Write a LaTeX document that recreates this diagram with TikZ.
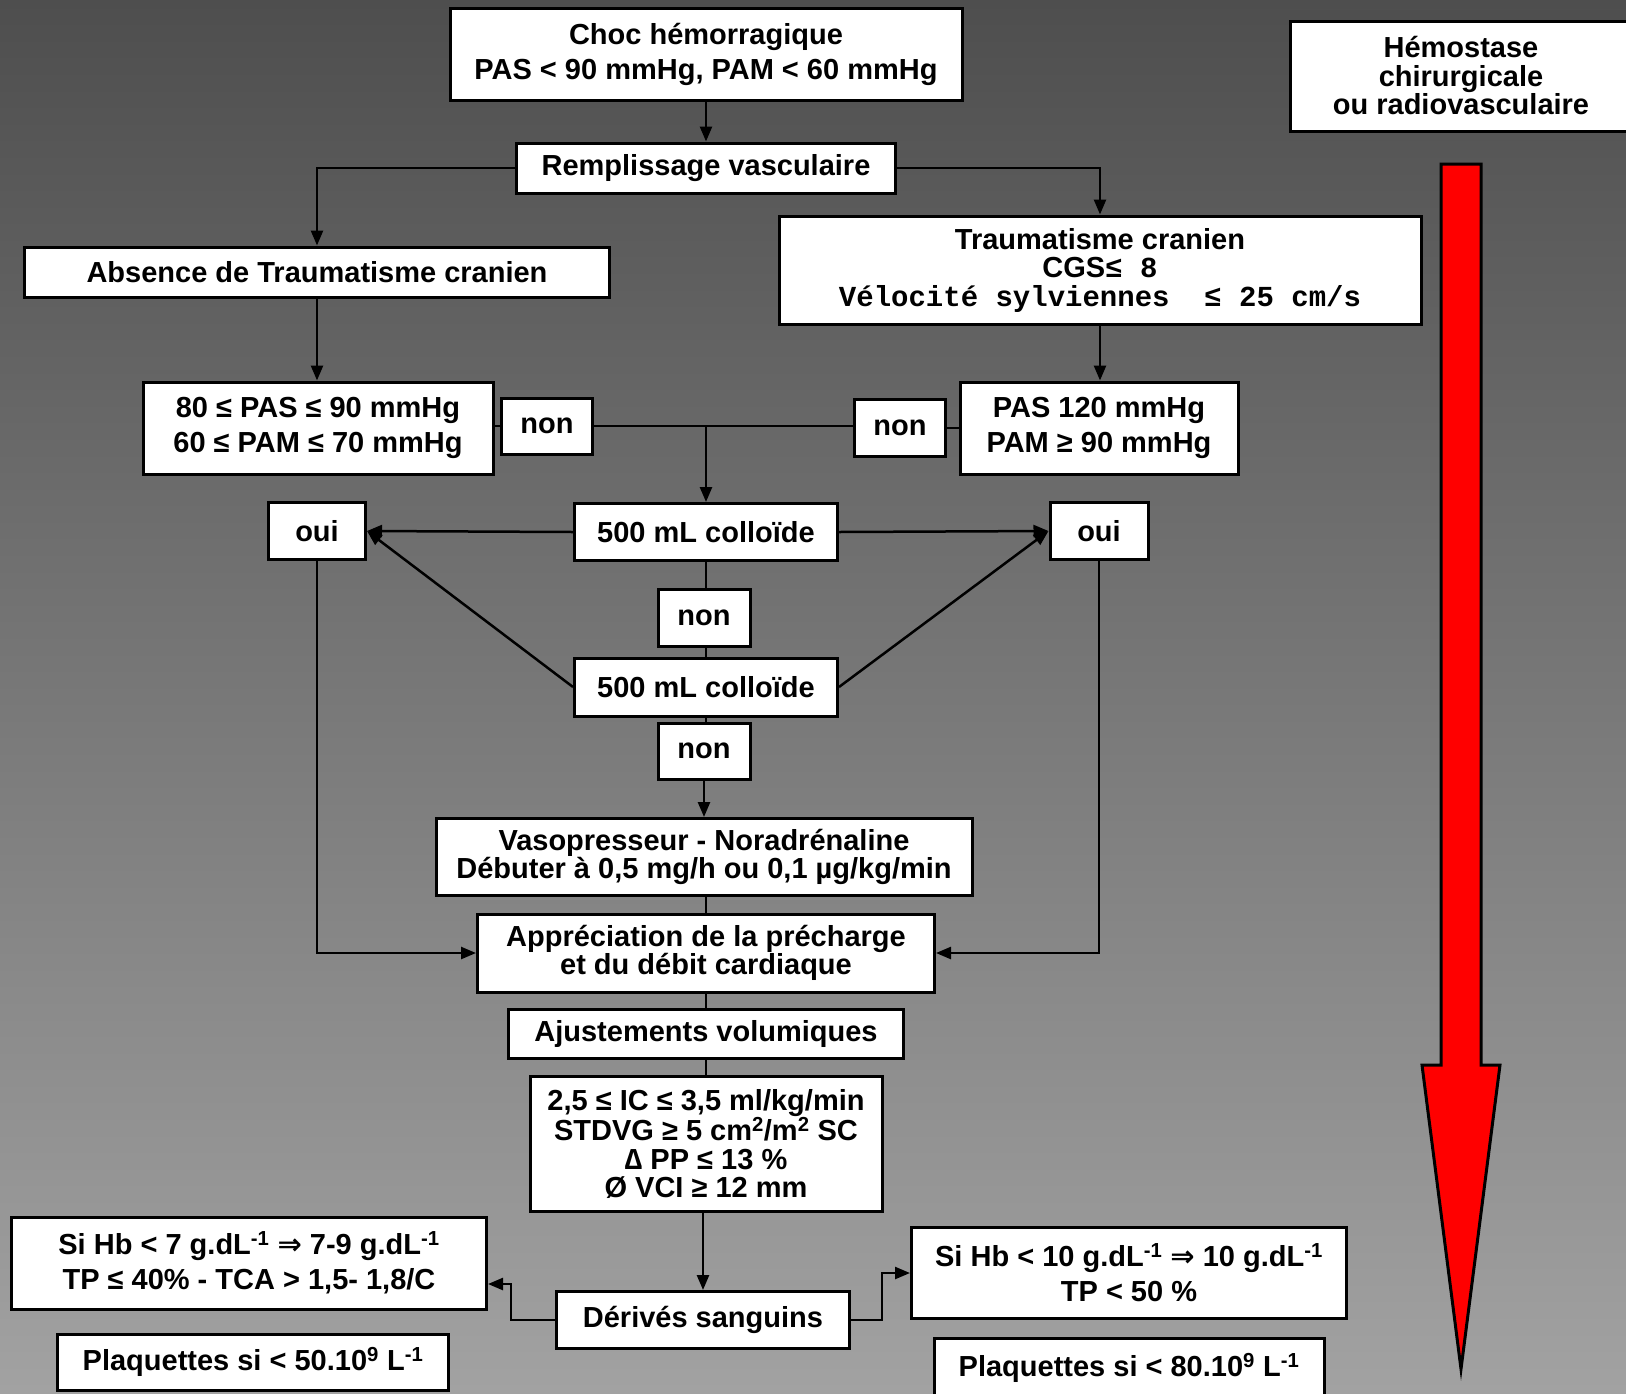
\documentclass[tikz,border=0pt]{standalone}
\usepackage{fontspec}
\setmainfont{Liberation Sans}
\newfontfamily\mono{Liberation Mono}
\newfontfamily\djv{DejaVu Sans}
\usetikzlibrary{arrows.meta,calc}
\definecolor{bgtop}{RGB}{78,78,78}
\definecolor{bgbot}{RGB}{162,162,162}
\begin{document}
\begin{tikzpicture}[x=1pt,y=-1pt,
  box/.style={draw=black,line width=3pt,fill=white,inner sep=0pt,align=center,
    font=\fontsize{29}{35}\selectfont\bfseries},
  tight/.style={font=\fontsize{29}{28.5}\selectfont\bfseries},
  sz/.style 2 args={minimum width=#1pt,minimum height=#2pt},
  conn/.style={line width=2.5pt,draw=black},
  arr/.style={conn,-{Triangle[length=15pt,width=12pt]}},
]
\useasboundingbox (0,0) rectangle (1626,1393);
\shade[top color=bgtop,bottom color=bgbot] (0,0) rectangle (1626,1393);

% red arrow
\draw[line width=3pt,fill=red,line join=miter] (1441,164) -- (1481,164) -- (1481,1065) -- (1500,1065)
  -- (1461,1369) -- (1422,1065) -- (1441,1065) -- cycle;

\node[box,sz={512}{92}] (choc) at (706,54) {Choc hémorragique\\PAS < 90 mmHg, PAM < 60 mmHg};
\node[box,sz={379}{50}] (remp) at (706,168) {Remplissage vasculaire};
\node[box,sz={585}{50}] (abs) at (317,272) {Absence de Traumatisme cranien};
\node[box,tight,sz={642}{108}] (trau) at (1100,270) {Traumatisme cranien\\CGS{\mono ≤ 8}\\{\mono Vélocité sylviennes~~≤ 25 cm/s}};
\node[box,tight,sz={342}{110}] (hem) at (1461,76) {Hémostase\\chirurgicale\\ou radiovasculaire};
\node[box,sz={350}{92}] (pasl) at (318,428) {80 ≤ PAS ≤ 90 mmHg\\60 ≤ PAM ≤ 70 mmHg};
\node[box,sz={91}{56}] (nonl) at (547,426) {non};
\node[box,sz={91}{57}] (nonr) at (900,428) {non};
\node[box,sz={278}{92}] (pasr) at (1099,428) {PAS 120 mmHg\\PAM ≥ 90 mmHg};
\node[box,sz={97}{57}] (ouil) at (317,531) {oui};
\node[box,sz={263}{57}] (col1) at (706,532) {500 mL colloïde};
\node[box,sz={98}{57}] (ouir) at (1099,531) {oui};
\node[box,sz={92}{57}] (non1) at (704,618) {non};
\node[box,sz={263}{58}] (col2) at (706,687) {500 mL colloïde};
\node[box,sz={92}{56}] (non2) at (704,751) {non};
\node[box,tight,sz={536}{77}] (vaso) at (704,857) {Vasopresseur - Noradrénaline\\Débuter à 0,5 mg/h ou 0,1 µg/kg/min};
\node[box,tight,sz={457}{78}] (appr) at (706,953) {Appréciation de la précharge\\et du débit cardiaque};
\node[box,sz={395}{49}] (ajus) at (706,1034) {Ajustements volumiques};
\node[box,tight,sz={352}{135}] (ic) at (706,1144) {2,5 ≤ IC ≤ 3,5 ml/kg/min\\STDVG ≥ 5 cm\textsuperscript{2}/m\textsuperscript{2} SC\\∆ PP ≤ 13 \%\\Ø VCI ≥ 12 mm};
\node[box,sz={475}{92}] (hb7) at (249,1263) {Si Hb < 7 g.dL\textsuperscript{-1} {\djv\bfseries ⇒} 7-9 g.dL\textsuperscript{-1}\\TP ≤ 40\% - TCA > 1,5- 1,8/C};
\node[box,sz={391}{56}] (pl50) at (253,1362) {Plaquettes si < 50.10\textsuperscript{9} L\textsuperscript{-1}};
\node[box,sz={293}{57}] (der) at (703,1320) {Dérivés sanguins};
\node[box,sz={435}{91}] (hb10) at (1129,1273) {Si Hb < 10 g.dL\textsuperscript{-1} {\djv\bfseries ⇒} 10 g.dL\textsuperscript{-1}\\TP < 50 \%};
\node[box,sz={390}{59}] (pl80) at (1129,1368) {Plaquettes si < 80.10\textsuperscript{9} L\textsuperscript{-1}};

% connectors
\draw[arr] (choc.south) -- (remp.north);
\draw[arr] (remp.west) -| (abs.north);
\draw[arr] (remp.east) -| (trau.north);
\draw[arr] (abs.south) -- (abs.south |- pasl.north);
\draw[arr] (trau.south) -- (trau.south |- pasr.north);
\draw[conn] (pasl.east |- nonl.west) -- (nonl.west);
\draw[conn] (nonl.east) -- (nonr.west |- nonl.east);
\draw[conn] (nonr.east) -- (pasr.west |- nonr.east);
\draw[arr] (col1.north |- nonl.east) -- (col1.north);
\draw[arr] (col1.west) -- (ouil.east);
\draw[arr] (col1.east) -- (ouir.west);
\draw[conn] (col1.south) -- (col1.south |- non1.north);
\draw[conn] (col1.south |- non1.south) -- (col2.north);
\draw[conn] (col2.south) -- (col2.south |- non2.north);
\draw[arr] (col2.west) -- (ouil.east);
\draw[arr] (col2.east) -- (ouir.west);
\draw[arr] (non2.south) -- (non2.south |- vaso.north);
\draw[conn] (appr.north |- vaso.south) -- (appr.north);
\draw[arr] (ouil.south) |- (appr.west);
\draw[arr] (ouir.south) |- (appr.east);
\draw[conn] (appr.south) -- (ajus.north);
\draw[conn] (ajus.south) -- (ic.north);
\draw[arr] (der.north |- ic.south) -- (der.north);
\draw[arr] (der.west) -- ++(-44,0) |- ([yshift=-21pt]hb7.east);
\draw[arr] (der.east) -- ++(31,0) |- (hb10.west);
\end{tikzpicture}
\end{document}
